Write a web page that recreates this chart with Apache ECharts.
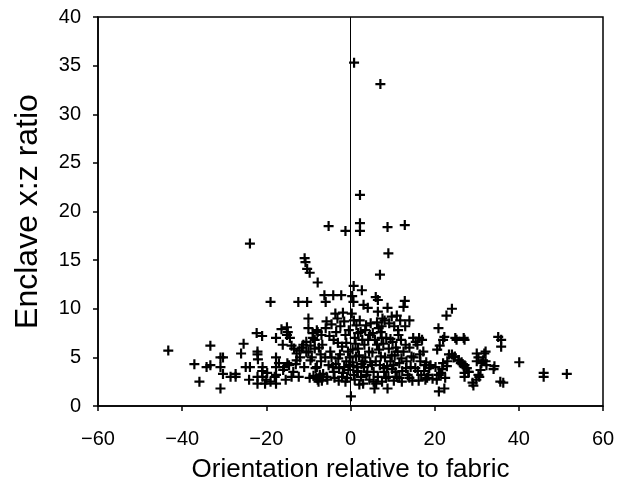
<!DOCTYPE html>
<html>
<head>
<meta charset="utf-8">
<script src="https://cdn.jsdelivr.net/npm/echarts@6/dist/echarts.min.js"></script>
<style>
  html, body { margin: 0; padding: 0; background: #fff; }
  #chart { width: 626px; height: 495px; }
</style>
</head>
<body>
<div id="chart"></div>
<script>
// orientation (deg) values
var orientation = [
  -43.3, -37.1, -35.9, -34.2, -33.3, -33.3, -30.9, -30.3, -30.9, -30.9, -30.3, -28.5, -27.3, -27.3,
  -26, -25.4, -24.9, -24.1, -23.9, -23.9, -22.3, -22.1, -22.1, -22.1, -22.1, -21, -20.9, -20.9,
  -20.3, -19.8, -19, -17.7, -17.7, -17.7, -17.7, -17.7, -16.4, -16.1, -15.8, -15.4, -15.1, -14.9,
  -15.1, -14.6, -14.4, -14, -13.6, -13.4, -12.8, -12.8, -12.4, -12.3, -12.1, -11.2, -10.9, -10.7,
  -10.5, -10.3, -10.3, -10, -10, -9.7, -10, -9.7, -9.5, -8.9, -8.5, -8.3, -8.1, -7.8, -7.8, -7.6,
  -7.3, -7.1, -6.9, -6.7, -6.2, -5.9, -5.9, -5.7, -5.7, -5.2, -5.2, -4.8, -4.1, -4.0, -3.8, -3.4,
  -3.1, -2.9, -2.7, -2.4, -2.2, -2.0, -1.8, -1.5, -1.2, -1.2, -1.0, -0.8, -0.6, -0.3, 0.1, 0.4,
  0.75, 0.85, 0.7, 0.8, 1.0, 1.3, 1.4, 1.6, 1.8, 2.25, 2.25, 2.25, 2.1, 2.4, 2.7, 2.9, 3.1, 3.3,
  3.7, 3.8, 4.1, 4.4, 4.6, 5.1, 5.5, 5.7, 6.0, 6.3, 6.5, 6.5, 6.7, 7.0, 7.1, 7.2, 7.4, 7.6, 7.9,
  8.4, 8.8, 8.8, 8.8, 9.0, 9.1, 9.5, 9.8, 10.0, 10.4, 10.7, 11.0, 11.2, 11.4, 11.6, 12.1, 12.6,
  12.9, 12.9, 13.1, 13.2, 14.0, 14.0, 14.5, 14.9, 15.4, 15.9, 16.3, 16.6, 16.8, 17.3, 17.7, 18.2,
  18.7, 20.6, 20.9, 21.0, 21.0, 21.5, 22.0, 22.0, 22.3, 22.3, 22.8, 22.9, 23.4, 24.1, 24.1, 24.8,
  24.9, 25.7, 26.2, 26.9, 26.9, 27.1, 27.6, 28.1, 29.0, 30.0, 30.0, 30.4, 30.9, 31.5, 32.1, 32.1,
  34.2, 35.1, 35.8, 35.8, 35.6, 36.3, 40.1, 45.9, 45.9, 51.4,
  25.2, 27.1, 24.5, 25.7, 26.4, 27.1, 27.6, 28.0, 27.1, 29.2, 29.9, 30.6, 30.4, 31.1, 31.8, 32.3, 34.0,
  -9, -8.5, -8, -7.5, -7, -6.5, -6, -9.5, -8.8, -7.8, -7.2, -6.8, -8, -9.2, -10.5, -11, -11.5, -12,
  -13, -14, -15, -16, -17, -18, -19, -20, -21, -22,
  -5, -4.5, -4, -3.5, -3, -2.5, -2, -1.5, -1, -0.5, -4.5, -3.6, -1.8, -0.4, -2.8, -1.2, -0.2, -4.2, -5.5,
  0.5, 0.8, 1.2, 1.5, 2, 2.5, 2.8, 3.2, 3.5, 4, 4.2, 4.7, 0.5, 1, 2.2, 3.5, 4.8, 0.3, 1.8, 3, 4.5, 0.7, 1.7, 2.6,
  5.2, 5.5, 5.8, 6, 6.3, 6.5, 6.8, 7, 7.2, 7.5, 7.8, 8, 8.2, 8.5, 8.7, 9, 9.2, 9.5, 9.8, 9.9, 5.3, 6.1, 7.4, 8.1,
  10.2, 10.5, 10.8, 11, 11.3, 11.6, 12, 12.3, 12.6, 13, 13.3, 13.6, 14, 14.3, 14.7, 10.3, 12.2, 11.8,
  15, 15.5, 16, 16.5, 17, 17.5, 18, 18.5, 19, 19.5, 16.2, 17.8,
  20.2, 20.5, 21.2, 21.8, 22.5, 23
];

// enclave x:z ratio, same order
var ratio = [
  5.7, 4.3, 2.5, 4.0, 6.2, 4.2, 5.0, 5.0, 4.0, 1.8, 3.3, 3.0, 3.0, 3.3,
  5.4, 6.4, 4.0, 2.7, 16.7, 4.0, 7.5, 5.6, 5.3, 3.0, 2.3, 7.2, 4.0, 3.0,
  2.3, 3.4, 10.7, 5.0, 4.0, 3.2, 2.3, 7.0, 7.9, 6.3, 4.0, 2.7, 8.1, 7.6,
  7.3, 4.2, 7.0, 6.2, 3.5, 5.9, 5.4, 4.7, 10.7, 3.0, 5.7, 6.3, 15.2, 14.8,
  6.6, 10.7, 14.1, 9.0, 8.0, 13.7, 5.6, 2.9, 4.7, 7.0, 5.9, 3.9, 2.9, 12.7, 7.6, 2.5,
  3.2, 5.3, 7.3, 6.3, 11.4, 10.7, 8.0, 8.7, 3.0, 18.5, 4.2, 5.6, 11.4, 6.8, 2.9, 7.6,
  9.0, 4.9, 3.9, 8.2, 11.4, 6.1, 3.4, 8.7, 18.0, 7.3, 4.6, 2.9, 5.6, 4.2, 1.0, 11.3,
  12.35, 35.3, 10.7, 8.8, 7.0, 5.1, 8.3, 3.5, 5.9, 21.7, 18.8, 18.0, 2.2, 7.6, 11.9, 4.6, 10.4, 6.3,
  8.3, 3.2, 10.1, 5.6, 7.3, 4.2, 2.5, 1.8, 11.2, 6.3, 10.9, 9.7, 8.0, 13.5, 33.1, 5.1, 7.0, 9.0, 3.9,
  2.9, 18.4, 10.1, 1.8, 15.7, 5.9, 4.6, 9.2, 6.6, 8.2, 3.5, 9.3, 5.6, 7.3, 2.9, 4.9, 10.2,
  10.8, 18.6, 6.3, 3.9, 8.8, 2.9, 5.1, 7.0, 3.9, 6.3, 7.0, 4.6, 3.2, 5.6, 4.2, 2.9,
  3.9, 5.8, 8.0, 3.2, 1.5, 3.4, 6.8, 4.4, 1.8, 7.1, 9.3, 4.1, 5.3, 10.0, 5.3, 5.1,
  7.0, 4.7, 4.4, 7.0, 4.1, 3.4, 3.9, 3.5, 2.4, 5.4, 4.6, 3.2, 3.7, 4.7, 5.6, 4.6,
  4.1, 7.1, 6.8, 6.1, 2.5, 2.4, 4.5, 3.4, 3.0, 3.3,
  6.8, 6.8, 5.0, 4.7, 4.5, 4.2, 3.9, 3.5, 3.0, 2.1, 2.7, 3.0, 5.0, 4.4, 5.4, 4.2, 3.8,
  7.5, 6.8, 7.8, 6.0, 4.6, 3.3, 5.0, 6.2, 3.1, 2.7, 3.0, 2.6, 4.0, 5.0, 5.5, 4.0, 6.0, 5.0,
  4.3, 3.0, 4.4, 3.7, 4.4, 3.0, 2.5, 2.7, 3.6, 4.8,
  7.2, 5.0, 3.5, 4.3, 6.5, 5.3, 3.0, 4.0, 6.5, 3.7, 8.4, 9.5, 9.6, 7.8, 2.6, 2.5, 5.0, 4.0, 2.7,
  4.5, 3.2, 6.4, 4.0, 5.2, 3.0, 6.8, 4.0, 5.0, 3.5, 6.8, 4.5, 5.8, 2.7, 8.8, 7.8, 8.5, 9.5, 7.5, 2.3, 2.7, 4.1, 3.6, 4.3,
  5.5, 3.5, 6.8, 4.6, 8.6, 3.0, 5.8, 4.2, 7.6, 2.5, 6.4, 3.5, 5.0, 7.0, 4.1, 3.0, 8.5, 6.9, 5.2, 3.8, 7.5, 2.3, 8.2, 8.8,
  4.2, 5.2, 6.0, 3.0, 7.8, 4.4, 6.8, 3.6, 5.6, 8.2, 4.6, 3.2, 6.0, 4.0, 2.6, 2.6, 2.5, 8.8,
  5.0, 6.6, 3.6, 5.3, 6.8, 3.6, 4.5, 3.2, 4.2, 2.8, 2.6, 2.7,
  4.0, 2.7, 6.2, 3.8, 2.9, 4.6
];

var xTicks = [-60, -40, -20, 0, 20, 40, 60];
var yTicks = [0, 5, 10, 15, 20, 25, 30, 35, 40];

var points = orientation.map(function (x, i) { return [x, ratio[i]]; });

var plusSymbol = 'path://M3.9,0H6.1V3.9H10V6.1H6.1V10H3.9V6.1H0V3.9H3.9Z';
var font = 'Liberation Sans, Arial, sans-serif';

var chart = echarts.init(document.getElementById('chart'));
chart.setOption({
  animation: false,
  backgroundColor: '#fff',
  grid: {
    left: 98, right: 23, top: 17, bottom: 89,
    show: true, borderColor: '#000', borderWidth: 1.5
  },
  xAxis: {
    type: 'value',
    min: xTicks[0], max: xTicks[xTicks.length - 1], interval: 20,
    name: 'Orientation relative to fabric',
    nameLocation: 'middle', nameGap: 51,
    nameTextStyle: { color: '#000', fontSize: 26, fontFamily: font },
    axisLine: { onZero: false, lineStyle: { color: '#000', width: 1.5 } },
    axisTick: { show: true, length: 5, lineStyle: { color: '#000', width: 1.5 } },
    axisLabel: {
      color: '#000', fontSize: 20, fontFamily: font, margin: 23,
      formatter: function (v) { return v < 0 ? '\u2212' + Math.abs(v) : String(v); }
    },
    splitLine: { show: false }
  },
  yAxis: {
    type: 'value',
    min: yTicks[0], max: yTicks[yTicks.length - 1], interval: 5,
    name: 'Enclave x:z ratio',
    nameLocation: 'middle', nameGap: 54,
    nameTextStyle: { color: '#000', fontSize: 32, fontFamily: font },
    axisLine: { show: true, onZero: false, lineStyle: { color: '#000', width: 1.5 } },
    axisTick: { show: true, length: 5, lineStyle: { color: '#000', width: 1.5 } },
    axisLabel: { color: '#000', fontSize: 20, fontFamily: font, margin: 17 },
    splitLine: { show: false }
  },
  series: [{
    type: 'scatter',
    data: points,
    symbol: plusSymbol,
    symbolSize: 10,
    itemStyle: { color: '#000', opacity: 1 },
    markLine: {
      silent: true,
      symbol: ['none', 'none'],
      label: { show: false },
      lineStyle: { color: '#000', width: 1, type: 'solid' },
      data: [{ xAxis: 0 }]
    }
  }]
});
</script>
</body>
</html>
